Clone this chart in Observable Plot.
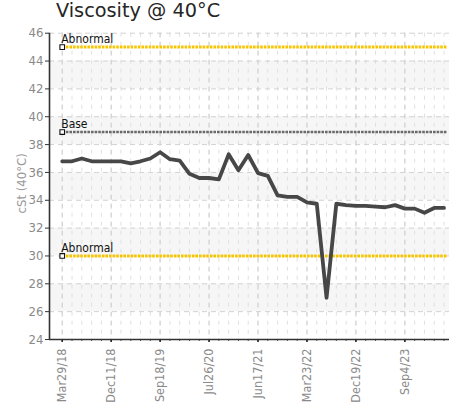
<!DOCTYPE html>
<html>
<head>
<meta charset="utf-8">
<script src="https://cdn.jsdelivr.net/npm/d3@7"></script>
<script src="https://cdn.jsdelivr.net/npm/@observablehq/plot@0.6"></script>
<style>
  html, body { margin: 0; padding: 0; background: #fff; }
  #wrap { position: relative; width: 449px; height: 412px; overflow: hidden; }
  #title { position: absolute; left: 56px; top: 1px; font-family: "DejaVu Sans", Verdana, sans-serif; font-size: 19.3px; line-height: 19px; color: #262626; white-space: nowrap; }
  #chart { position: absolute; left: 0; top: 0; }
</style>
</head>
<body>
<div id="wrap">
  <div id="title">Viscosity @ 40°C</div>
  <div id="chart"></div>
</div>
<script>
// ---- data ----
const viscosity = [36.8,36.8,37.0,36.8,36.8,36.8,36.8,36.65,36.8,37.0,37.45,36.95,36.85,35.9,35.6,35.6,35.5,37.3,36.15,37.25,35.95,35.75,34.35,34.25,34.25,33.85,33.75,27.0,33.75,33.65,33.6,33.6,33.55,33.5,33.65,33.4,33.4,33.1,33.45,33.45];
const tickIndex = [0,5,10,15,20,25,30,35];
const tickLabels = ["Mar29/18","Dec11/18","Sep18/19","Jul26/20","Jun17/21","Mar23/22","Dec19/22","Sep4/23"];
const yTicks = [24,26,28,30,32,34,36,38,40,42,44,46];
const bandLows = [26,30,34,38,42];
const limitLabels = ["Abnormal","Base","Abnormal"];
const limitValues = [45,38.9,30];
const limitKinds = ["abnormal","base","abnormal"];
const yLabel = "cSt (40°C)";

// ---- build ----
const points = viscosity.map((v, i) => ({i, v}));
const limits = limitValues.map((v, k) => ({label: limitLabels[k], v, kind: limitKinds[k]}));
const bands = bandLows.map(lo => ({lo, hi: lo + 2}));
const allIndex = points.map(d => d.i);
const xDomain = [-1.3, 39.56];
const yDomain = [24, 46];
const labelOf = new Map(tickIndex.map((t, k) => [t, tickLabels[k]]));
const limitColor = {abnormal: "#f7c500", base: "#6a6a6a"};
const narrow = "'DejaVu Sans Condensed', 'Liberation Sans Narrow', 'DejaVu Sans', sans-serif";

const limitSegs = limits.map(d => ({...d, x1: 0, x2: xDomain[1] - 0.28}));

const chart = Plot.plot({
  width: 449,
  height: 412,
  marginLeft: 49,
  marginRight: 0,
  marginTop: 32.7,
  marginBottom: 73,
  style: {background: "transparent", fontFamily: narrow},
  x: {type: "linear", domain: xDomain, axis: null},
  y: {domain: yDomain, axis: null},
  marks: [
    Plot.rect(bands, {y1: "lo", y2: "hi", fill: "#f6f6f6"}),
    Plot.gridX(allIndex, {stroke: "#e0e0e0", strokeOpacity: 1, strokeDasharray: "4,5"}),
    Plot.gridX(tickIndex, {stroke: "#cfcfcf", strokeOpacity: 1, strokeDasharray: "5,4"}),
    Plot.gridY(yTicks, {stroke: "#d2d2d2", strokeOpacity: 1, strokeDasharray: "5,4"}),
    Plot.axisY(yTicks, {anchor: "left", tickSize: 4, tickPadding: 2, stroke: "#333", fill: "#8a8a8a", fontSize: 13, fontFamily: narrow, label: null}),
    Plot.axisX(allIndex, {anchor: "bottom", tickSize: 2, stroke: "#555", text: null, label: null}),
    Plot.axisX(tickIndex, {anchor: "bottom", tickSize: 3, stroke: "#222", strokeWidth: 1.6, text: null, label: null}),
    Plot.text(tickIndex, {x: d => d, frameAnchor: "bottom", text: d => labelOf.get(d), rotate: -90, textAnchor: "end", lineAnchor: "middle", dy: 9, fill: "#8a8a8a", fontSize: 12.5, fontFamily: narrow}),
    Plot.text([yLabel], {frameAnchor: "left", text: d => d, rotate: -90, textAnchor: "middle", lineAnchor: "middle", dx: -28, dy: -3, fill: "#9a9a9a", fontSize: 13, fontFamily: narrow}),
    Plot.ruleX([xDomain[0]], {stroke: "#333", strokeWidth: 1.6}),
    Plot.ruleY([yDomain[0]], {stroke: "#333", strokeWidth: 1.6}),
    Plot.link(limitSegs, {x1: "x1", x2: "x2", y1: "v", y2: "v", stroke: d => limitColor[d.kind], strokeWidth: d => d.kind === "base" ? 2.6 : 3, strokeDasharray: "2.6,1"}),
    Plot.line(points, {x: "i", y: "v", stroke: "#474747", strokeWidth: 3.8, strokeLinejoin: "round", strokeLinecap: "round"}),
    Plot.dot(limits, {x: () => 0, y: "v", symbol: "square", r: 2.6, fill: "#fff", stroke: "#111", strokeWidth: 1.1}),
    Plot.text(limits, {x: () => 0, y: "v", text: "label", textAnchor: "start", lineAnchor: "bottom", dx: -1, dy: -4, fill: "#111", fontSize: 12, fontFamily: narrow})
  ]
});
document.getElementById("chart").appendChild(chart);
</script>
</body>
</html>
